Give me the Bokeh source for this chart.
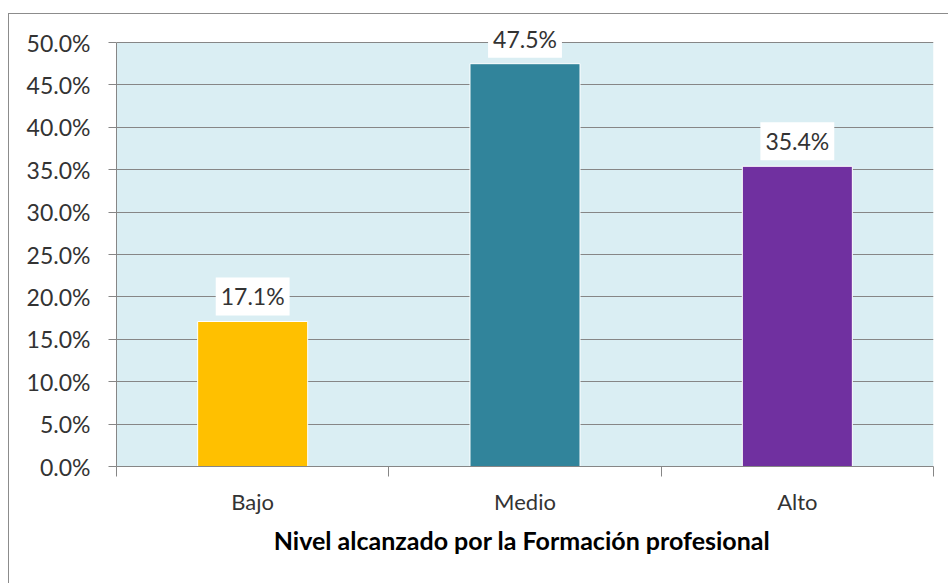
from bokeh.plotting import figure
from bokeh.models import (ColumnDataSource, FixedTicker, PrintfTickFormatter,
                          Range1d, Title, Label, BoxAnnotation)
from bokeh.embed import file_html
from bokeh.resources import INLINE

# ---- data ----
categories = ["Bajo", "Medio", "Alto"]
percentages = [17.1, 47.5, 35.4]
bar_colors = ["#FFC000", "#31849B", "#7030A0"]
y_ticks = [0, 5, 10, 15, 20, 25, 30, 35, 40, 45, 50]
x_title = "Nivel alcanzado por la  Formación profesional"

FONT = "Lato"
GRAY = "#868686"
TXT = "#333333"

# layout: plot-area height for 0..50 is 424px, extra 28px of headroom above
y_max = y_ticks[-1]
y_end = y_max * (424 + 28) / 424

xpos = [i + 0.5 for i in range(len(categories))]
src = ColumnDataSource(dict(x=xpos, v=percentages, c=bar_colors))

p = figure(width=940, height=570,
           x_range=Range1d(0, len(categories)), y_range=Range1d(0, y_end),
           output_backend="svg", toolbar_location=None,
           min_border_left=107, min_border_right=16,
           min_border_top=0, min_border_bottom=118)
p.margin = (13, 0, 0, 8)
p.styles = {"border-left": "1px solid #8c8c8c", "border-top": "1px solid #8c8c8c"}
p.background_fill_color = "white"
p.border_fill_color = "white"
p.outline_line_color = None

# light-blue plot area from 0 to the top tick
p.add_layout(BoxAnnotation(bottom=0, top=y_max, fill_color="#DAEEF3", fill_alpha=1,
                           line_color=None, level="image"))

p.vbar(x="x", top="v", width=0.404, fill_color="c", line_color="white",
       line_width=1, source=src)

for xv, v in zip(xpos, percentages):
    p.add_layout(Label(x=xv, y=v, text=f"{v:.1f}%", y_offset=25,
                       text_align="center", text_baseline="middle",
                       text_font=FONT, text_font_size="23px", text_color=TXT,
                       background_fill_color="white", padding=5))

# y axis
ya = p.yaxis[0]
ya.bounds = (0, y_max)
ya.ticker = FixedTicker(ticks=y_ticks, minor_ticks=[])
ya.formatter = PrintfTickFormatter(format="%.1f%%")
ya.axis_line_color = GRAY
ya.major_tick_line_color = GRAY
ya.major_tick_out = 8
ya.major_tick_in = 0
ya.minor_tick_line_color = None
ya.major_label_standoff = 18
ya.major_label_text_font = FONT
ya.major_label_text_font_size = "23px"
ya.major_label_text_color = TXT

# x axis
xa = p.xaxis[0]
xa.ticker = FixedTicker(ticks=xpos, minor_ticks=list(range(len(categories) + 1)))
xa.major_label_overrides = {x: c for x, c in zip(xpos, categories)}
xa.axis_line_color = GRAY
xa.major_tick_line_color = None
xa.major_tick_out = 0
xa.major_tick_in = 0
xa.minor_tick_line_color = GRAY
xa.minor_tick_out = 10
xa.minor_tick_in = 0
xa.major_label_standoff = 11
xa.major_label_text_font = FONT
xa.major_label_text_font_size = "22px"
xa.major_label_text_color = TXT

p.xgrid.visible = False
p.ygrid.grid_line_color = GRAY
p.ygrid.grid_line_width = 1

p.add_layout(Title(text=x_title, align="center",
                   text_font=FONT, text_font_size="25px",
                   text_font_style="bold", text_color="black",
                   standoff=11), "below")

open("out.html", "w").write(file_html(p, INLINE))
